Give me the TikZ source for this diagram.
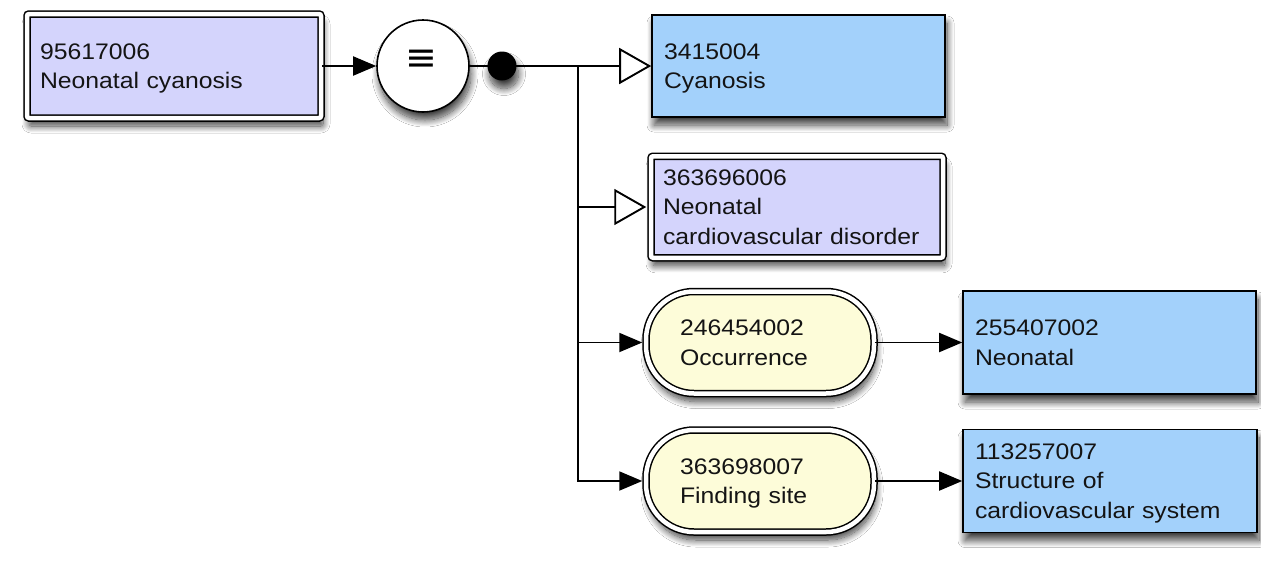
\documentclass[tikz,border=0pt]{standalone}
\usepackage{fontspec}
\setmainfont{Liberation Sans}[FakeStretch=1.1]
\newfontfamily\symfont{DejaVu Sans}
\usetikzlibrary{arrows.meta,shadows.blur}
\definecolor{lav}{RGB}{212,212,252}
\definecolor{skyb}{RGB}{163,209,251}
\definecolor{pale}{RGB}{253,252,217}
\definecolor{ink}{RGB}{20,20,20}
\tikzset{
  lbl/.style={font=\fontsize{22.5}{29.5}\selectfont, text=ink, align=left, inner sep=0pt},
  twolines/.style={text depth=29.5pt},
  threelines/.style={text depth=59pt},
  shad/.style={blur shadow={shadow xshift=2pt, shadow yshift=-8pt, shadow blur radius=7pt, shadow blur steps=14, shadow opacity=75}},
  conceptbox/.style={lbl, shad, draw=black, line width=1.6pt, rectangle},
  primbox/.style={conceptbox, fill=lav, double=white, line width=1.5pt, double distance=4.5pt, rounded corners=2pt},
  defbox/.style={conceptbox, fill=skyb},
  attrpill/.style={lbl, shad, draw=black, fill=pale, rectangle, rounded corners=48pt, double=white, line width=1.5pt, double distance=4.5pt},
  conn/.style={draw=black, line width=1.9pt},
  filltip/.style={-{Triangle[length=23pt,width=19pt]}},
  opentip/.style={-{Triangle[open,length=32pt,width=36pt]}},
}
\begin{document}
\begin{tikzpicture}[x=1pt,y=-1pt]
\useasboundingbox[fill=white] (0,0) rectangle (1261,574);
% nodes
\node[primbox, twolines, minimum width=294pt, minimum height=104pt, text width=268pt] (nc) at (174,66) {95617006\\Neonatal cyanosis};
\node[draw=black, line width=1.6pt, fill=white, circle, minimum size=92pt, inner sep=0pt, shad] (eq) at (423,66) {};
\node[inner sep=0pt, font=\symfont\fontsize{38}{38}\selectfont] (eqs) at (421,60) {≡};
\node[circle, fill=black, minimum size=29pt, inner sep=0pt, shad] (dot) at (502,66) {};
\coordinate (j) at (578,66);
\node[defbox, twolines, minimum width=293pt, minimum height=102pt, text width=269pt] (cy) at (798.5,66) {3415004\\Cyanosis};
\node[primbox, threelines, minimum width=292pt, minimum height=101.5pt, text width=268pt] (ncd) at (797,207) {363696006\\Neonatal\\cardiovascular disorder};
\node[attrpill, twolines, minimum width=228pt, minimum height=102pt, text width=160pt] (occ) at (760,342.5) {246454002\\Occurrence};
\node[attrpill, twolines, minimum width=228pt, minimum height=102pt, text width=160pt] (fs) at (760,481) {363698007\\Finding site};
\node[defbox, twolines, minimum width=293pt, minimum height=103pt, text width=269pt] (neo) at (1109.5,342.5) {255407002\\Neonatal};
\node[defbox, threelines, minimum width=294pt, minimum height=103pt, text width=270pt] (scs) at (1110,481) {113257007\\Structure of\\cardiovascular system};
% connectors
\draw[conn, filltip] (nc.east) -- (eq.west);
\draw[conn] (eq.east) -- (dot.center);
\draw[conn, opentip] (dot.center) -- (cy.west);
\draw[conn, opentip, shorten >=4pt] (j) |- (ncd.west);
\draw[conn, filltip, shorten >=3pt] (j) |- (occ.west);
\draw[conn, filltip, shorten >=3pt] (j) |- (fs.west);
\draw[conn, filltip] (occ.east) -- (neo.west);
\draw[conn, filltip] (fs.east) -- (scs.west);
\end{tikzpicture}
\end{document}
